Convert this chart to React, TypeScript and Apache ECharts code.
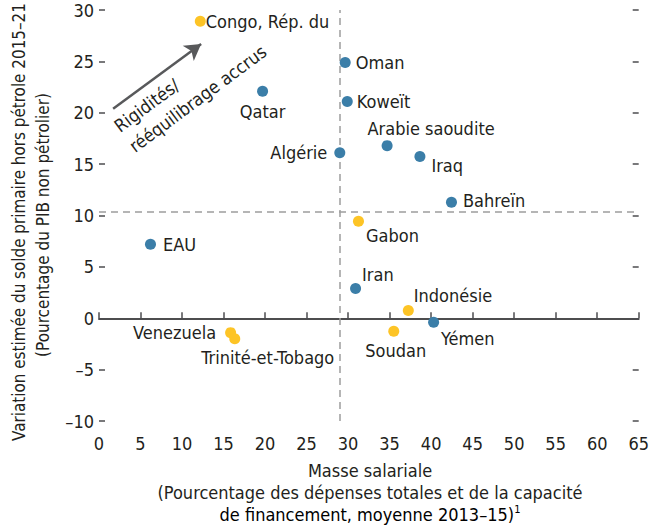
import React, { useEffect, useRef } from "react";
import * as echarts from "echarts";

const xTicks = { min: 0, max: 65, interval: 5 };
const yTicks = { min: -10, max: 30, interval: 5 };

const blueNames = ["Qatar", "Oman", "Koweït", "Algérie", "Arabie saoudite", "Iraq", "Bahreïn", "Iran", "Yémen", "EAU"];
const blueX = [19.7, 29.65, 29.9, 29.0, 34.7, 38.65, 42.45, 30.9, 40.3, 6.2];
const blueY = [22.1, 24.9, 21.1, 16.1, 16.8, 15.75, 11.3, 2.9, -0.4, 7.2];

const yellowNames = ["Congo, Rép. du", "Gabon", "Indonésie", "Soudan", "Venezuela", "Trinité-et-Tobago"];
const yellowX = [12.2, 31.25, 37.25, 35.5, 15.85, 16.35];
const yellowY = [28.9, 9.45, 0.76, -1.26, -1.4, -2.0];

const thresholdX = 29.0;
const thresholdY = 10.4;

const arrowFrom = [1.7, 20.4];
const arrowTo = [12.3, 26.7];

const xTitle = ["Masse salariale", "(Pourcentage des dépenses totales et de la capacité", "de financement, moyenne 2013–15)"];
const yTitle = ["Variation estimée du solde primaire hors pétrole 2015–21", "(Pourcentage du PIB non pétrolier)"];
const annotation = ["Rigidités/", "rééquilibrage accrus"];

const FONT = "'DejaVu Sans Condensed', 'Liberation Sans Narrow', sans-serif";
const FS = 18;
const TEXT = "#231f20";
const BLUE = "#3b7ea8";
const YELLOW = "#fdc426";

type Place = { position: string; distance: number; offset: [number, number] };
const labelPlace: Record<string, Place> = {
  "Qatar": { position: "bottom", distance: 6, offset: [0, 0] },
  "Oman": { position: "right", distance: 5, offset: [0, 0] },
  "Koweït": { position: "right", distance: 4, offset: [0, 0] },
  "Algérie": { position: "left", distance: 7, offset: [0, 0] },
  "Arabie saoudite": { position: "top", distance: 3, offset: [44, 0] },
  "Iraq": { position: "right", distance: 6, offset: [0, 9] },
  "Bahreïn": { position: "right", distance: 6, offset: [0, -2] },
  "Iran": { position: "right", distance: 1, offset: [0, -14] },
  "Yémen": { position: "right", distance: 2, offset: [0, 16] },
  "EAU": { position: "right", distance: 7, offset: [0, 0] },
  "Congo, Rép. du": { position: "right", distance: 0, offset: [0, 0] },
  "Gabon": { position: "right", distance: 2, offset: [0, 14] },
  "Indonésie": { position: "right", distance: 0, offset: [0, -15] },
  "Soudan": { position: "bottom", distance: 5, offset: [2, 0] },
  "Venezuela": { position: "left", distance: 9, offset: [0, 0] },
  "Trinité-et-Tobago": { position: "bottom", distance: 4, offset: [33, 0] },
};

function buildData(names: string[], xs: number[], ys: number[]) {
  return names.map((n, i) => {
    const p = labelPlace[n];
    return {
      name: n,
      value: [xs[i], ys[i]],
      label: { show: true, position: p.position, distance: p.distance, offset: p.offset },
    };
  });
}

export default function App() {
  const ref = useRef<HTMLDivElement>(null);
  useEffect(() => {
    document.body.style.margin = "0";
    document.body.style.overflow = "hidden";
    if (!ref.current) return;
    const chart = echarts.init(ref.current, null, { renderer: "svg" });
    const labelBase = {
      show: true,
      formatter: "{b}",
      fontFamily: FONT,
      fontSize: FS,
      color: TEXT,
    };
    const fmt = (v: number) => String(v).replace("-", "–");
    const tickStyle = { color: "#4d4d4f", width: 1.5 };
    chart.setOption({
      animation: false,
      grid: { left: 99, right: 11, top: 10, bottom: 107, containLabel: false },
      xAxis: {
        type: "value",
        min: xTicks.min,
        max: xTicks.max,
        interval: xTicks.interval,
        axisLine: { show: true, lineStyle: { color: "#4d4d4f", width: 2 } },
        axisTick: { show: true, inside: true, length: 6, lineStyle: tickStyle },
        axisLabel: { fontFamily: FONT, fontSize: FS, color: TEXT, margin: 13, formatter: fmt },
        splitLine: { show: false },
      },
      yAxis: [
        {
          type: "value",
          position: "left",
          min: yTicks.min,
          max: yTicks.max,
          interval: yTicks.interval,
          axisLine: { show: false },
          axisTick: { show: true, inside: true, length: 6, lineStyle: tickStyle },
          axisLabel: { fontFamily: FONT, fontSize: FS, color: TEXT, margin: 5, formatter: fmt },
          splitLine: { show: false },
        },
        {
          type: "value",
          position: "right",
          min: yTicks.min,
          max: yTicks.max,
          interval: yTicks.interval,
          axisLine: { show: false },
          axisTick: { show: true, inside: true, length: 6, lineStyle: tickStyle },
          axisLabel: { show: false },
          splitLine: { show: false },
        },
      ],
      series: [
        {
          type: "scatter",
          yAxisIndex: 0,
          symbolSize: 11,
          itemStyle: { color: BLUE, opacity: 1 },
          label: labelBase,
          data: buildData(blueNames, blueX, blueY),
          z: 3,
          markLine: {
            silent: true,
            symbol: "none",
            label: { show: false },
            lineStyle: { color: "#9d9d9d", type: [7, 5], width: 1.5 },
            data: [{ xAxis: thresholdX }, { yAxis: thresholdY }],
            z: 1,
          },
        },
        {
          type: "scatter",
          yAxisIndex: 0,
          symbolSize: 11,
          itemStyle: { color: YELLOW, opacity: 1 },
          label: labelBase,
          data: buildData(yellowNames, yellowX, yellowY),
          z: 3,
          markLine: {
            silent: true,
            symbol: ["none", "arrow"],
            symbolSize: [14, 16],
            label: { show: false },
            lineStyle: { color: "#58595b", type: "solid", width: 2.5 },
            data: [[{ coord: arrowFrom }, { coord: arrowTo }]],
          },
        },
      ],
      graphic: [
        {
          type: "text",
          x: 109,
          y: 118,
          rotation: 0.64,
          style: {
            text: annotation.join("\n"),
            fontFamily: FONT,
            fontSize: FS,
            lineHeight: 25,
            fill: TEXT,
            align: "left",
            verticalAlign: "top",
          },
        },
        {
          type: "text",
          x: 19,
          y: 222,
          rotation: Math.PI / 2,
          style: { text: yTitle[0], fontFamily: FONT, fontSize: 16.9, fill: TEXT, align: "center", verticalAlign: "middle" },
        },
        {
          type: "text",
          x: 43,
          y: 225,
          rotation: Math.PI / 2,
          style: { text: yTitle[1], fontFamily: FONT, fontSize: 17, fill: TEXT, align: "center", verticalAlign: "middle" },
        },
        {
          type: "text",
          x: 370,
          y: 470,
          style: { text: xTitle[0], fontFamily: FONT, fontSize: FS, fill: TEXT, align: "center", verticalAlign: "middle" },
        },
        {
          type: "text",
          x: 370,
          y: 492,
          style: { text: xTitle[1], fontFamily: FONT, fontSize: FS, fill: TEXT, align: "center", verticalAlign: "middle" },
        },
        {
          type: "text",
          x: 370,
          y: 514,
          style: {
            text: "{a|" + xTitle[2] + "}{s|1}",
            align: "center",
            verticalAlign: "middle",
            rich: {
              a: { fontFamily: FONT, fontSize: FS, color: TEXT, lineHeight: 20 },
              s: { fontFamily: FONT, fontSize: 11, color: TEXT, verticalAlign: "top", lineHeight: 20 },
            },
          },
        },
      ],
    });
    return () => chart.dispose();
  }, []);
  return <div ref={ref} style={{ width: 652, height: 528 }} />;
}
